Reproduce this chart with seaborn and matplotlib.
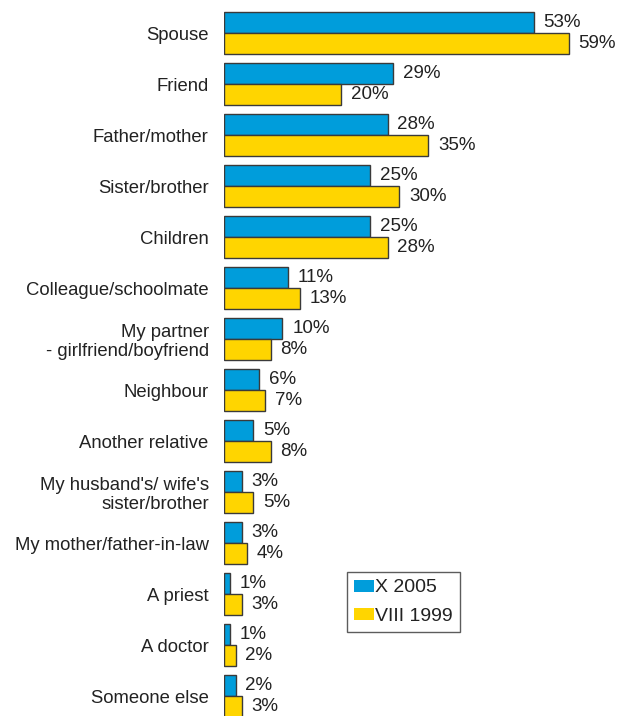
import matplotlib
matplotlib.use("Agg")
import matplotlib.pyplot as plt
import seaborn as sns
import pandas as pd

categories = [
    "Spouse", "Friend", "Father/mother", "Sister/brother", "Children",
    "Colleague/schoolmate", "My partner\n- girlfriend/boyfriend", "Neighbour",
    "Another relative", "My husband's/ wife's\nsister/brother",
    "My mother/father-in-law", "A priest", "A doctor", "Someone else",
]
x2005 = [53, 29, 28, 25, 25, 11, 10, 6, 5, 3, 3, 1, 1, 2]
viii1999 = [59, 20, 35, 30, 28, 13, 8, 7, 8, 5, 4, 3, 2, 3]
series = ["X 2005", "VIII 1999"]
colors = ["#009ddb", "#ffd500"]

df = pd.DataFrame({
    "category": categories * 2,
    "value": x2005 + viii1999,
    "series": [series[0]] * len(categories) + [series[1]] * len(categories),
})

sns.set_theme(style="white")
plt.rcParams["font.family"] = ["Liberation Sans", "DejaVu Sans"]

FS = 13.3
fig = plt.figure(figsize=(6.27, 7.16), dpi=100)
ax = fig.add_axes([224 / 627, 0, 1 - 224 / 627, 1])

sns.barplot(data=df, y="category", x="value", hue="series", order=categories,
            hue_order=series, palette=colors, saturation=1, orient="h",
            width=0.82, edgecolor="#3a3a3a", linewidth=1.0, ax=ax)

for container in ax.containers:
    ax.bar_label(container, labels=[f"{v:g}%" for v in container.datavalues],
                 padding=7, fontsize=13.5, color="#222222")

ax.set_xlim(0, 69)
ax.set_ylim(13.39, -0.647)
ax.set_xlabel("")
ax.set_ylabel("")
ax.set_xticks([])
ax.tick_params(axis="y", length=0, pad=11, labelsize=FS, labelcolor="#222222")
for lbl in ax.get_yticklabels():
    lbl.set_multialignment("right")
    lbl.set_linespacing(1.15)
for s in ax.spines.values():
    s.set_visible(False)

leg = ax.legend(loc="upper left", bbox_to_anchor=((347 - 224) / 403, 1 - 572 / 716),
                borderaxespad=0, frameon=True, fontsize=14, handlelength=1.0,
                handleheight=0.57, handletextpad=0.05, labelspacing=0.6,
                borderpad=0.38, fancybox=False, edgecolor="#333333")
leg.get_frame().set_linewidth(1.0)
for h in leg.legend_handles:
    h.set_edgecolor("none")
for t in leg.get_texts():
    t.set_color("#222222")

fig.savefig("out.png", dpi=100)
